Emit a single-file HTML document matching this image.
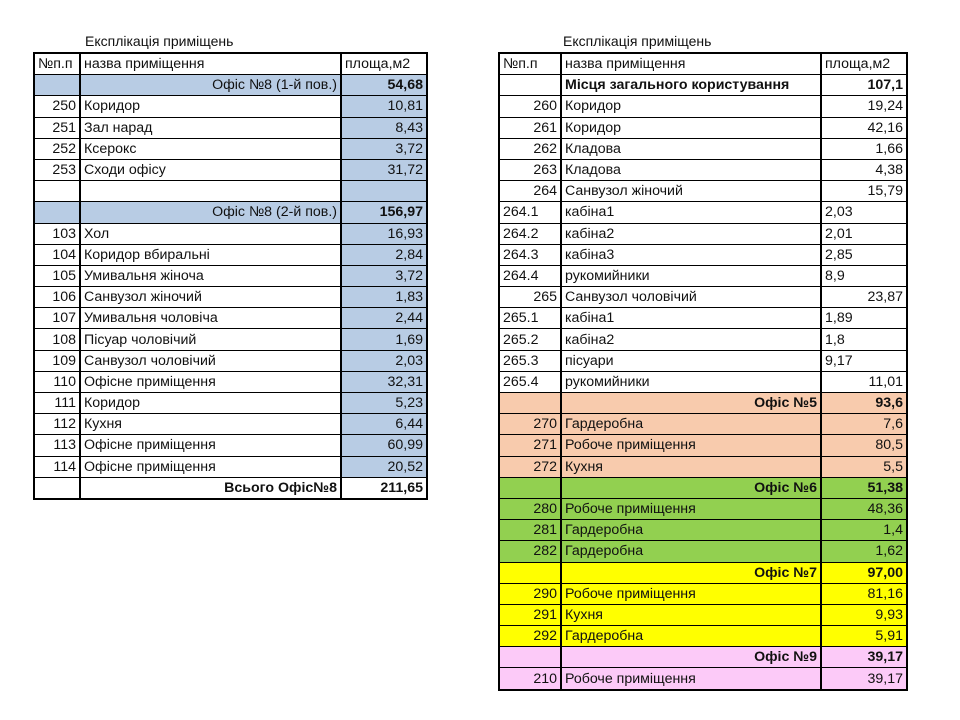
<!DOCTYPE html>
<html><head><meta charset="utf-8">
<style>
body{margin:0;width:960px;height:720px;background:#fff;position:relative;overflow:hidden;font-family:"Liberation Sans","DejaVu Sans",sans-serif;}
.title{position:absolute;top:33px;font-size:14px;color:#111;}
table{position:absolute;border-collapse:collapse;table-layout:fixed;font-size:14.2px;color:#111;border:2px solid #000;}
td{height:20.2px;padding:0 3px;border-top:1px solid #000;border-bottom:1px solid #000;border-left:2px solid #000;border-right:2px solid #000;white-space:nowrap;overflow:hidden;line-height:20px;}
.r{text-align:right}.b{font-weight:bold}
.bl{background:#b8cce4}
.pe{background:#f8cbad}.gr{background:#92d050}.ye{background:#ffff00}.pk{background:#fccaf8}
</style></head><body>
<div class="title" style="left:85px">Експлікація приміщень</div>
<div class="title" style="left:563px">Експлікація приміщень</div>

<table style="left:33px;top:52px;width:393px">
<colgroup><col style="width:46px"><col style="width:261px"><col style="width:86px"></colgroup>
<tr><td>№п.п</td><td>назва приміщення</td><td>площа,м2</td></tr>
<tr class="bl"><td></td><td class="r">Офіс №8 (1-й пов.)</td><td class="r b">54,68</td></tr>
<tr><td class="r">250</td><td>Коридор</td><td class="r bl">10,81</td></tr>
<tr><td class="r">251</td><td>Зал нарад</td><td class="r bl">8,43</td></tr>
<tr><td class="r">252</td><td>Ксерокс</td><td class="r bl">3,72</td></tr>
<tr><td class="r">253</td><td>Сходи офісу</td><td class="r bl">31,72</td></tr>
<tr><td></td><td></td><td class="bl"></td></tr>
<tr class="bl"><td></td><td class="r">Офіс №8 (2-й пов.)</td><td class="r b">156,97</td></tr>
<tr><td class="r">103</td><td>Хол</td><td class="r bl">16,93</td></tr>
<tr><td class="r">104</td><td>Коридор вбиральні</td><td class="r bl">2,84</td></tr>
<tr><td class="r">105</td><td>Умивальня жіноча</td><td class="r bl">3,72</td></tr>
<tr><td class="r">106</td><td>Санвузол жіночий</td><td class="r bl">1,83</td></tr>
<tr><td class="r">107</td><td>Умивальня чоловіча</td><td class="r bl">2,44</td></tr>
<tr><td class="r">108</td><td>Пісуар чоловічий</td><td class="r bl">1,69</td></tr>
<tr><td class="r">109</td><td>Санвузол чоловічий</td><td class="r bl">2,03</td></tr>
<tr><td class="r">110</td><td>Офісне приміщення</td><td class="r bl">32,31</td></tr>
<tr><td class="r">111</td><td>Коридор</td><td class="r bl">5,23</td></tr>
<tr><td class="r">112</td><td>Кухня</td><td class="r bl">6,44</td></tr>
<tr><td class="r">113</td><td>Офісне приміщення</td><td class="r bl">60,99</td></tr>
<tr><td class="r">114</td><td>Офісне приміщення</td><td class="r bl">20,52</td></tr>
<tr><td></td><td class="r b">Всього Офіс№8</td><td class="r b">211,65</td></tr>
</table>

<table style="left:498px;top:52px;width:408px">
<colgroup><col style="width:62px"><col style="width:260px"><col style="width:86px"></colgroup>
<tr><td>№п.п</td><td>назва приміщення</td><td>площа,м2</td></tr>
<tr><td></td><td class="b">Місця загального користування</td><td class="r b">107,1</td></tr>
<tr><td class="r">260</td><td>Коридор</td><td class="r">19,24</td></tr>
<tr><td class="r">261</td><td>Коридор</td><td class="r">42,16</td></tr>
<tr><td class="r">262</td><td>Кладова</td><td class="r">1,66</td></tr>
<tr><td class="r">263</td><td>Кладова</td><td class="r">4,38</td></tr>
<tr><td class="r">264</td><td>Санвузол жіночий</td><td class="r">15,79</td></tr>
<tr><td>264.1</td><td>кабіна1</td><td>2,03</td></tr>
<tr><td>264.2</td><td>кабіна2</td><td>2,01</td></tr>
<tr><td>264.3</td><td>кабіна3</td><td>2,85</td></tr>
<tr><td>264.4</td><td>рукомийники</td><td>8,9</td></tr>
<tr><td class="r">265</td><td>Санвузол чоловічий</td><td class="r">23,87</td></tr>
<tr><td>265.1</td><td>кабіна1</td><td>1,89</td></tr>
<tr><td>265.2</td><td>кабіна2</td><td>1,8</td></tr>
<tr><td>265.3</td><td>пісуари</td><td>9,17</td></tr>
<tr><td>265.4</td><td>рукомийники</td><td class="r">11,01</td></tr>
<tr class="pe"><td></td><td class="r b">Офіс №5</td><td class="r b">93,6</td></tr>
<tr class="pe"><td class="r">270</td><td>Гардеробна</td><td class="r">7,6</td></tr>
<tr class="pe"><td class="r">271</td><td>Робоче приміщення</td><td class="r">80,5</td></tr>
<tr class="pe"><td class="r">272</td><td>Кухня</td><td class="r">5,5</td></tr>
<tr class="gr"><td></td><td class="r b">Офіс №6</td><td class="r b">51,38</td></tr>
<tr class="gr"><td class="r">280</td><td>Робоче приміщення</td><td class="r">48,36</td></tr>
<tr class="gr"><td class="r">281</td><td>Гардеробна</td><td class="r">1,4</td></tr>
<tr class="gr"><td class="r">282</td><td>Гардеробна</td><td class="r">1,62</td></tr>
<tr class="ye"><td></td><td class="r b">Офіс №7</td><td class="r b">97,00</td></tr>
<tr class="ye"><td class="r">290</td><td>Робоче приміщення</td><td class="r">81,16</td></tr>
<tr class="ye"><td class="r">291</td><td>Кухня</td><td class="r">9,93</td></tr>
<tr class="ye"><td class="r">292</td><td>Гардеробна</td><td class="r">5,91</td></tr>
<tr class="pk"><td></td><td class="r b">Офіс №9</td><td class="r b">39,17</td></tr>
<tr class="pk"><td class="r">210</td><td>Робоче приміщення</td><td class="r">39,17</td></tr>
</table>
</body></html>
